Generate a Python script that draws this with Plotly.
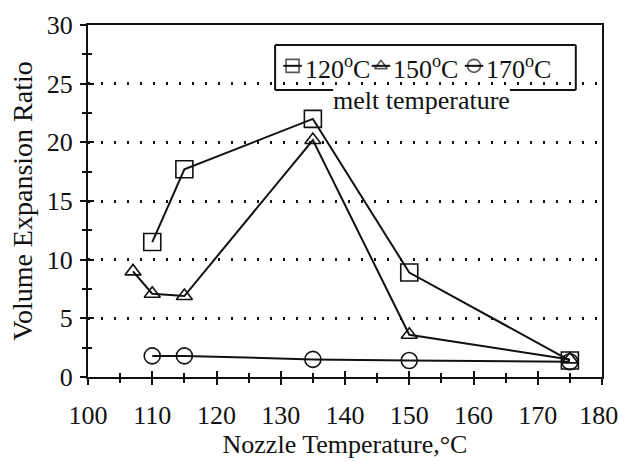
import plotly.graph_objects as go

# ---- data ----
nozzle_120 = [110, 115, 135, 150, 175]
ratio_120 = [11.5, 17.7, 22.0, 8.9, 1.4]

nozzle_150 = [107, 110, 115, 135, 150, 175]
ratio_150 = [9.0, 7.1, 6.9, 20.2, 3.6, 1.5]

nozzle_170 = [110, 115, 135, 150, 175]
ratio_170 = [1.8, 1.8, 1.5, 1.4, 1.3]

series_names = ["120<sup>o</sup>C", "150<sup>o</sup>C", "170<sup>o</sup>C"]
x_ticks = [100, 110, 120, 130, 140, 150, 160, 170, 180]
x_tick_text = ["100", "110", "120", "130", "140", "150", "160", "170", "180\u00a0"]
y_ticks = [0, 5, 10, 15, 20, 25, 30]

FONT = "Liberation Serif"
INK = "#111111"

fig = go.Figure()

symbols = ["square-open", "triangle-up-open", "circle-open"]
sizes = [17, 14, 16]
for xs, ys, sym, sz in zip([nozzle_120, nozzle_150, nozzle_170],
                           [ratio_120, ratio_150, ratio_170], symbols, sizes):
    fig.add_trace(go.Scatter(
        x=xs, y=ys, mode="lines+markers",
        line=dict(color=INK, width=2),
        marker=dict(symbol=sym, size=sz, color=INK, line=dict(width=1.6, color=INK)),
        showlegend=False, hoverinfo="skip", cliponaxis=False,
    ))

# dummy trace for the overlay axes carrying the inner half of the crossing ticks
fig.add_trace(go.Scatter(x=[None], y=[None], xaxis="x2", yaxis="y2",
                         showlegend=False, hoverinfo="skip"))

# ---- hand-made legend box (positions in plot-domain fractions) ----
glyph_x = [0.398, 0.570, 0.751]
text_x = [0.418, 0.589, 0.770]
glyph_y = 0.884
half = 0.018
for gx, sym, gs in zip(glyph_x, symbols, [13, 11, 13]):
    fig.add_trace(go.Scatter(
        x=[gx - half, gx, gx + half], y=[glyph_y] * 3, xaxis="x3", yaxis="y3",
        mode="lines+markers", line=dict(color=INK, width=2),
        marker=dict(symbol=sym, size=[0, gs, 0], color=INK, line=dict(width=1.6, color=INK)),
        showlegend=False, hoverinfo="skip",
    ))

bx0, bx1, by0, by1 = 0.364, 0.949, 0.815, 0.943
gap0, gap1 = 0.477, 0.821
fig.add_shape(type="rect", xref="x domain", yref="y domain",
              x0=bx0, x1=bx1, y0=by0, y1=by1,
              line=dict(width=0), fillcolor="white", layer="below")
for (xa, ya, xb, yb) in [(bx0, by1, bx1, by1), (bx0, by0, bx0, by1),
                         (bx1, by0, bx1, by1), (bx0, by0, gap0, by0),
                         (gap1, by0, bx1, by0)]:
    fig.add_shape(type="line", xref="x domain", yref="y domain",
                  x0=xa, y0=ya, x1=xb, y1=yb,
                  line=dict(color=INK, width=2), layer="above")

for tx, name in zip(text_x, series_names):
    fig.add_annotation(x=tx, y=0.878, xref="x domain", yref="y domain",
                       text=name, showarrow=False, xanchor="left", yanchor="middle",
                       font=dict(family=FONT, size=26, color=INK))
fig.add_annotation(x=0.648, y=0.786, xref="x domain", yref="y domain",
                   text="melt temperature", showarrow=False,
                   xanchor="center", yanchor="middle",
                   font=dict(family=FONT, size=26, color=INK))

fig.update_layout(
    width=619, height=461,
    margin=dict(l=88, r=17, t=25, b=84, autoexpand=False),
    paper_bgcolor="white", plot_bgcolor="white",
    font=dict(family=FONT, size=26, color=INK),
    xaxis=dict(range=[100, 180], tickvals=x_ticks, ticktext=x_tick_text,
               ticks="outside", ticklen=6,
               minor=dict(dtick=5, tick0=100, ticks="outside", ticklen=4,
                          tickwidth=2, tickcolor=INK),
               showline=True, linecolor=INK, linewidth=2, mirror=True,
               ticklabelstandoff=8, automargin=False, ticklabeloverflow="allow",
               title=dict(text="Nozzle Temperature,°C", standoff=5,
                          font=dict(family=FONT, size=26, color=INK)),
               showgrid=False, zeroline=False, tickcolor=INK, tickwidth=2,
               tickfont=dict(family=FONT, size=26, color=INK)),
    yaxis=dict(range=[0, 30], tickvals=y_ticks, ticks="outside", ticklen=6,
               minor=dict(dtick=2.5, tick0=0, ticks="outside", ticklen=4,
                          tickwidth=2, tickcolor=INK),
               showline=True, linecolor=INK, linewidth=2, mirror=True,
               ticklabelstandoff=2, automargin=False,
               title=dict(text="Volume Expansion Ratio", standoff=6,
                          font=dict(family=FONT, size=28, color=INK)),
               showgrid=True, gridcolor=INK, gridwidth=2.5, griddash="2px,11px",
               zeroline=False, tickcolor=INK, tickwidth=2,
               tickfont=dict(family=FONT, size=26, color=INK)),
    xaxis2=dict(overlaying="x", anchor="y2", range=[100, 180], tickvals=x_ticks,
                ticks="inside", ticklen=6, showticklabels=False, showline=False,
                minor=dict(dtick=5, tick0=100, ticks="inside", ticklen=4,
                           tickwidth=2, tickcolor=INK), automargin=False,
                showgrid=False, zeroline=False, tickcolor=INK, tickwidth=2),
    yaxis2=dict(overlaying="y", anchor="x2", range=[0, 30], tickvals=y_ticks,
                ticks="inside", ticklen=6, showticklabels=False, showline=False,
                minor=dict(dtick=2.5, tick0=0, ticks="inside", ticklen=4,
                           tickwidth=2, tickcolor=INK), automargin=False,
                showgrid=False, zeroline=False, tickcolor=INK, tickwidth=2),
    xaxis3=dict(overlaying="x", anchor="y3", range=[0, 1], visible=False),
    yaxis3=dict(overlaying="y", anchor="x3", range=[0, 1], visible=False),
    showlegend=False,
)

fig.write_html("out.html", config={"displayModeBar": False},
               post_script="document.body.style.margin='0px';document.body.style.overflow='hidden';")
